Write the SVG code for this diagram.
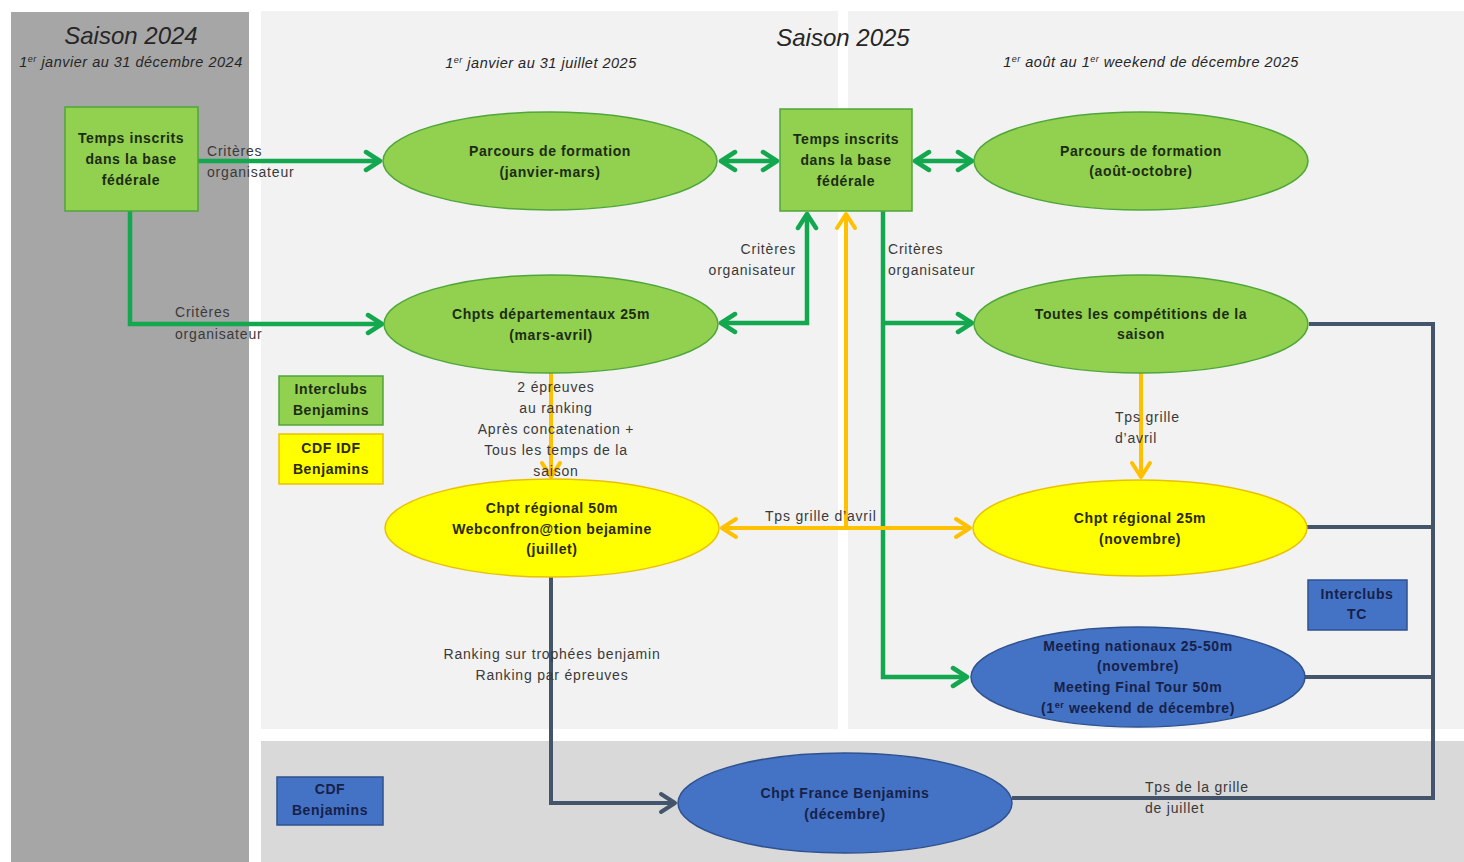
<svg xmlns="http://www.w3.org/2000/svg" width="1464" height="862" viewBox="0 0 1464 862">
<style>
  .title{font-family:"Liberation Sans",Arial,sans-serif;font-style:italic;font-size:24px;fill:#262626;text-anchor:middle;}
  .sub{font-family:"Liberation Sans",Arial,sans-serif;font-style:italic;font-size:14.5px;letter-spacing:0.5px;fill:#262626;text-anchor:middle;}
  .nb{font-family:"Liberation Sans",Arial,sans-serif;font-weight:bold;font-size:14px;letter-spacing:0.6px;text-anchor:middle;}
  .g{fill:#1c2c12;}
  .y{fill:#2a2a00;}
  .b{fill:#16214a;}
  .lbl{font-family:"Liberation Sans",Arial,sans-serif;font-size:14px;letter-spacing:0.8px;fill:#3a3a3a;}
  .gn{fill:#92d050;stroke:#4fa63a;stroke-width:1.5;}
  .yn{fill:#ffff00;stroke:#e8c200;stroke-width:1.5;}
  .bn{fill:#4472c4;stroke:#2f528f;stroke-width:1.5;}
  .cg{fill:none;stroke:#13a84f;stroke-width:4.5;}
  .cy{fill:none;stroke:#ffc000;stroke-width:4;}
  .cd{fill:none;stroke:#44546a;stroke-width:4;}
</style>
<defs>
  <marker id="ag" viewBox="0 0 20 24" refX="17" refY="12" markerWidth="20" markerHeight="24" markerUnits="userSpaceOnUse" orient="auto-start-reverse">
    <path d="M3,3 L17,12 L3,21" fill="none" stroke="#13a84f" stroke-width="4.5" stroke-linecap="round" stroke-linejoin="round"/>
  </marker>
  <marker id="ay" viewBox="0 0 20 24" refX="17" refY="12" markerWidth="20" markerHeight="24" markerUnits="userSpaceOnUse" orient="auto-start-reverse">
    <path d="M3,3 L17,12 L3,21" fill="none" stroke="#ffc000" stroke-width="4" stroke-linecap="round" stroke-linejoin="round"/>
  </marker>
  <marker id="ad" viewBox="0 0 20 24" refX="17" refY="12" markerWidth="20" markerHeight="24" markerUnits="userSpaceOnUse" orient="auto-start-reverse">
    <path d="M3,3 L17,12 L3,21" fill="none" stroke="#44546a" stroke-width="4" stroke-linecap="round" stroke-linejoin="round"/>
  </marker>
</defs>
<rect x="0" y="0" width="1464" height="862" fill="#ffffff"/>
<g id="panels">
  <rect x="11" y="12" width="238" height="850" fill="#a6a6a6"/>
  <rect x="261" y="11" width="577" height="718" fill="#f2f2f2"/>
  <rect x="848" y="11" width="616" height="718" fill="#f2f2f2"/>
  <rect x="261" y="741" width="1203" height="121" fill="#d9d9d9"/>
</g>
<g id="titles">
  <text class="title" x="131" y="44">Saison 2024</text>
  <text class="sub" x="131" y="67">1<tspan font-size="9" dy="-5">er</tspan><tspan dy="5"> janvier au 31 décembre 2024</tspan></text>
  <text class="title" x="843" y="46">Saison 2025</text>
  <text class="sub" x="541" y="68">1<tspan font-size="9" dy="-5">er</tspan><tspan dy="5"> janvier au 31 juillet 2025</tspan></text>
  <text class="sub" x="1151" y="67">1<tspan font-size="9" dy="-5">er</tspan><tspan dy="5"> août au 1</tspan><tspan font-size="9" dy="-5">er</tspan><tspan dy="5"> weekend de décembre 2025</tspan></text>
</g>
<g id="connectors">
  <path class="cg" d="M198,161 H380" marker-end="url(#ag)"/>
  <path class="cg" d="M130,211 V324 H382" marker-end="url(#ag)"/>
  <path class="cg" d="M721,161 H777" marker-start="url(#ag)" marker-end="url(#ag)"/>
  <path class="cg" d="M915,161 H972" marker-start="url(#ag)" marker-end="url(#ag)"/>
  <path class="cg" d="M807,214 V323 H721" marker-start="url(#ag)" marker-end="url(#ag)"/>
  <path class="cg" d="M883,211 V677 H967" marker-end="url(#ag)"/>
  <path class="cg" d="M883,323 H972" marker-end="url(#ag)"/>
  <path class="cy" d="M551,373 V477" marker-end="url(#ay)"/>
  <path class="cy" d="M722,528 H970" marker-start="url(#ay)" marker-end="url(#ay)"/>
  <path class="cy" d="M846,528 V214" marker-end="url(#ay)"/>
  <path class="cy" d="M1141,373 V477" marker-end="url(#ay)"/>
  <path class="cd" d="M551,577 V803 H675" marker-end="url(#ad)"/>
  <path class="cd" d="M1309,324 H1433 V798 H1012"/>
  <path class="cd" d="M1307,527 H1433"/>
  <path class="cd" d="M1305,677 H1433"/>
  <text class="lbl" x="207" y="156">Critères</text>
  <text class="lbl" x="207" y="177">organisateur</text>
  <text class="lbl" x="175" y="317">Critères</text>
  <text class="lbl" x="175" y="339">organisateur</text>
  <text class="lbl" x="796" y="254" text-anchor="end">Critères</text>
  <text class="lbl" x="796" y="275" text-anchor="end">organisateur</text>
  <text class="lbl" x="888" y="254">Critères</text>
  <text class="lbl" x="888" y="275">organisateur</text>
  <g text-anchor="middle">
    <text class="lbl" x="556" y="392">2 épreuves</text>
    <text class="lbl" x="556" y="413">au ranking</text>
    <text class="lbl" x="556" y="434">Après concatenation +</text>
    <text class="lbl" x="556" y="455">Tous les temps de la</text>
    <text class="lbl" x="556" y="476">saison</text>
    <text class="lbl" x="552" y="659">Ranking sur trophées benjamin</text>
    <text class="lbl" x="552" y="680">Ranking par épreuves</text>
  </g>
  <text class="lbl" x="765" y="521">Tps grille d’avril</text>
  <text class="lbl" x="1115" y="422">Tps grille</text>
  <text class="lbl" x="1115" y="443">d’avril</text>
  <text class="lbl" x="1145" y="792">Tps de la grille</text>
  <text class="lbl" x="1145" y="813">de juillet</text>
</g>
<g id="n-temps-2024">
  <rect class="gn" x="65" y="107" width="133" height="104"/>
  <text class="nb g" x="131" y="143">Temps inscrits</text>
  <text class="nb g" x="131" y="164">dans la base</text>
  <text class="nb g" x="131" y="185">fédérale</text>
</g>
<g id="n-parcours-1">
  <ellipse class="gn" cx="550" cy="161" rx="167" ry="49"/>
  <text class="nb g" x="550" y="156">Parcours de formation</text>
  <text class="nb g" x="550" y="177">(janvier-mars)</text>
</g>
<g id="n-temps-2025">
  <rect class="gn" x="780" y="109" width="132" height="102"/>
  <text class="nb g" x="846" y="144">Temps inscrits</text>
  <text class="nb g" x="846" y="165">dans la base</text>
  <text class="nb g" x="846" y="186">fédérale</text>
</g>
<g id="n-parcours-2">
  <ellipse class="gn" cx="1141" cy="161" rx="167" ry="49"/>
  <text class="nb g" x="1141" y="156">Parcours de formation</text>
  <text class="nb g" x="1141" y="176">(août-octobre)</text>
</g>
<g id="n-chpts-dep">
  <ellipse class="gn" cx="551" cy="324" rx="167" ry="49"/>
  <text class="nb g" x="551" y="319">Chpts départementaux 25m</text>
  <text class="nb g" x="551" y="340">(mars-avril)</text>
</g>
<g id="n-toutes">
  <ellipse class="gn" cx="1141" cy="324" rx="167" ry="49"/>
  <text class="nb g" x="1141" y="319">Toutes les compétitions de la</text>
  <text class="nb g" x="1141" y="339">saison</text>
</g>
<g id="n-reg50">
  <ellipse class="yn" cx="552" cy="528" rx="167" ry="49"/>
  <text class="nb y" x="552" y="513">Chpt régional 50m</text>
  <text class="nb y" x="552" y="534">Webconfron@tion bejamine</text>
  <text class="nb y" x="552" y="554">(juillet)</text>
</g>
<g id="n-reg25">
  <ellipse class="yn" cx="1140" cy="528" rx="167" ry="48"/>
  <text class="nb y" x="1140" y="523">Chpt régional 25m</text>
  <text class="nb y" x="1140" y="544">(novembre)</text>
</g>
<g id="n-meeting">
  <ellipse class="bn" cx="1138" cy="677" rx="167" ry="50"/>
  <text class="nb b" x="1138" y="651">Meeting nationaux 25-50m</text>
  <text class="nb b" x="1138" y="671">(novembre)</text>
  <text class="nb b" x="1138" y="692">Meeting Final Tour 50m</text>
  <text class="nb b" x="1138" y="713">(1<tspan font-size="9" dy="-5">er</tspan><tspan dy="5"> weekend de décembre)</tspan></text>
</g>
<g id="n-france">
  <ellipse class="bn" cx="845" cy="803" rx="167" ry="50"/>
  <text class="nb b" x="845" y="798">Chpt France Benjamins</text>
  <text class="nb b" x="845" y="819">(décembre)</text>
</g>
<g id="legend-interclubs-benjamins">
  <rect class="gn" x="279" y="376" width="104" height="49"/>
  <text class="nb g" x="331" y="394">Interclubs</text>
  <text class="nb g" x="331" y="415">Benjamins</text>
</g>
<g id="legend-cdf-idf">
  <rect class="yn" x="279" y="434" width="104" height="50"/>
  <text class="nb y" x="331" y="453">CDF IDF</text>
  <text class="nb y" x="331" y="474">Benjamins</text>
</g>
<g id="legend-interclubs-tc">
  <rect class="bn" x="1308" y="580" width="99" height="50"/>
  <text class="nb b" x="1357" y="599">Interclubs</text>
  <text class="nb b" x="1357" y="619">TC</text>
</g>
<g id="legend-cdf-benjamins">
  <rect class="bn" x="277" y="777" width="106" height="48"/>
  <text class="nb b" x="330" y="794">CDF</text>
  <text class="nb b" x="330" y="815">Benjamins</text>
</g>
</svg>
